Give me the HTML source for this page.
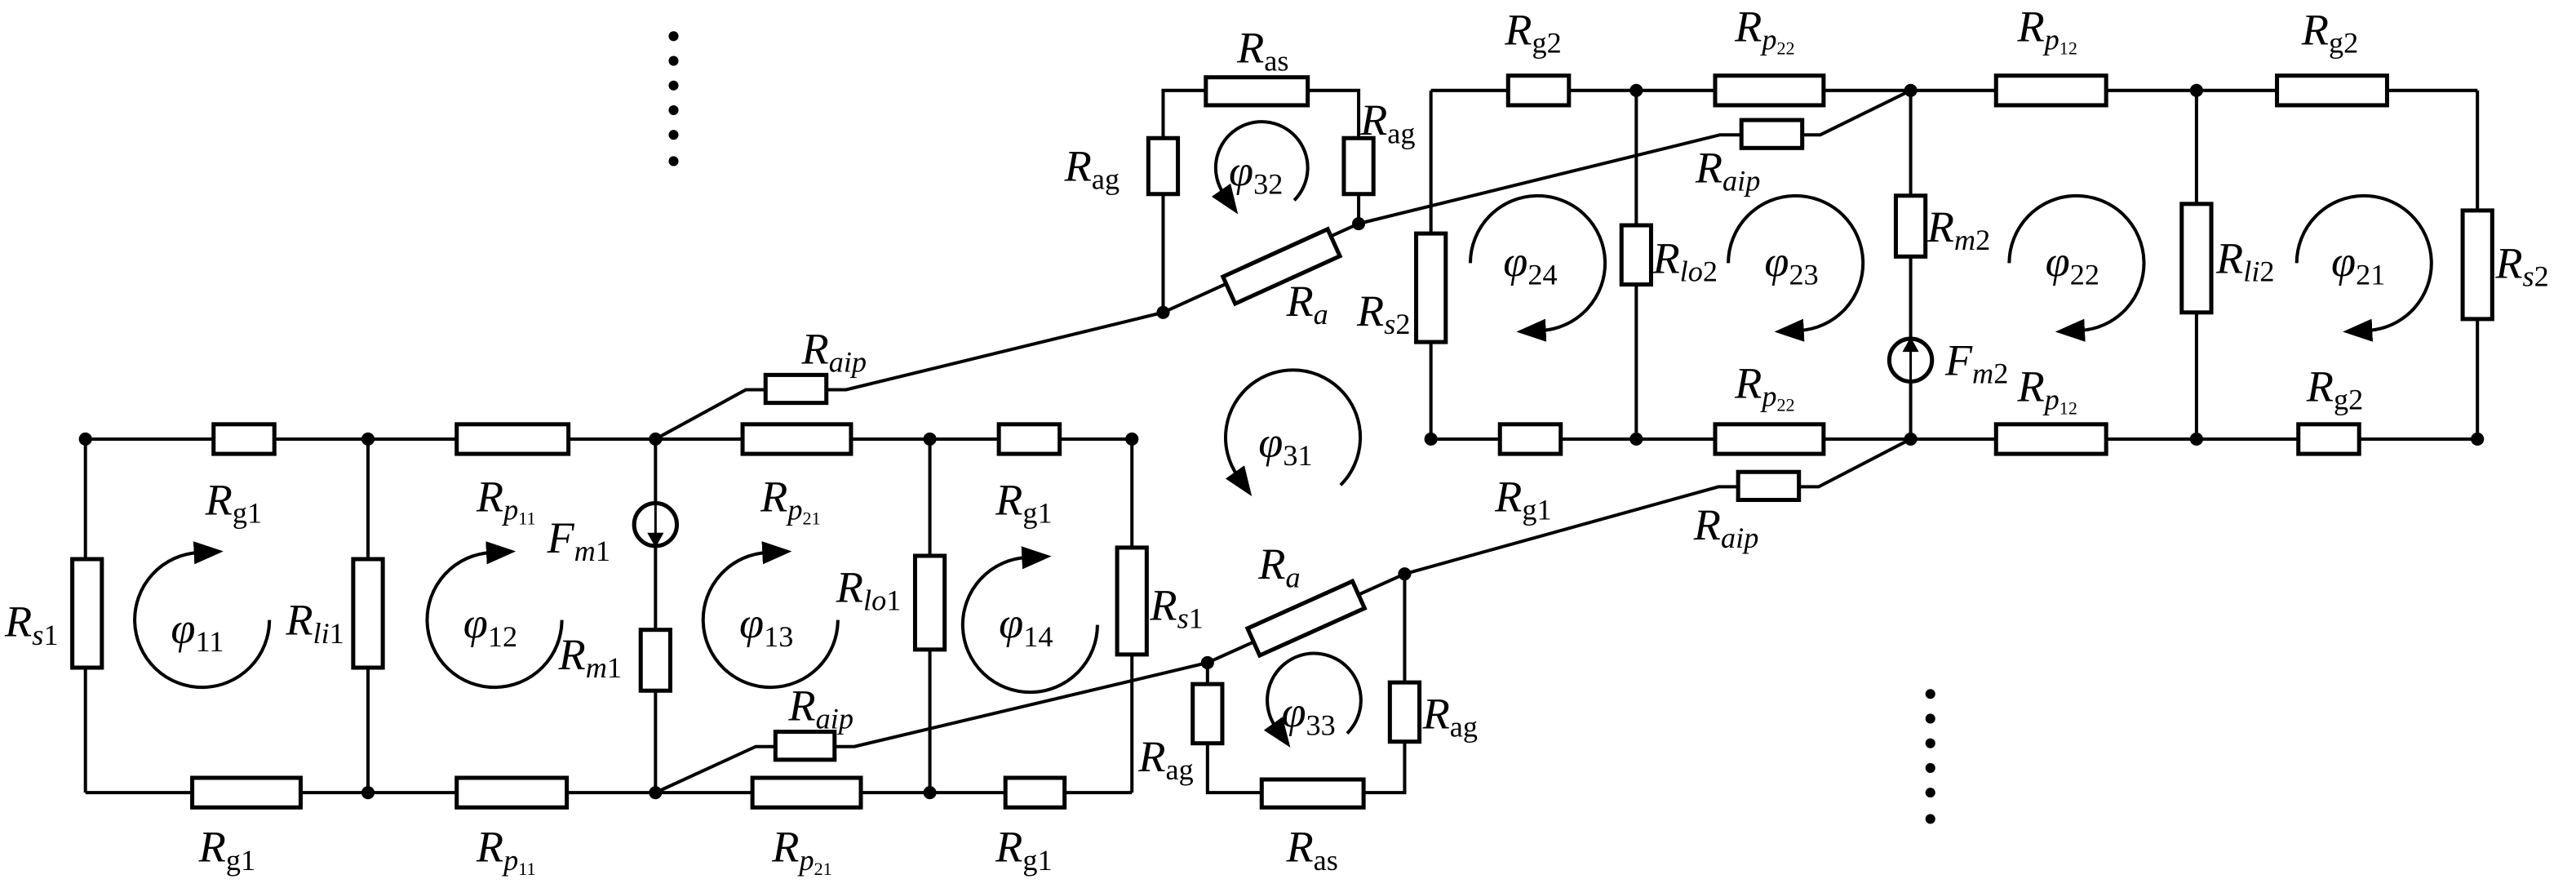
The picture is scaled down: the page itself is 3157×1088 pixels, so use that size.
<!DOCTYPE html>
<html><head><meta charset="utf-8"><style>
html,body{margin:0;padding:0;background:#fff;}
svg{display:block;}
text{font-family:"Liberation Serif",serif;font-size:27px;fill:#000;}
.i{font-style:italic;}
</style></head><body>
<svg width="3157" height="1088" viewBox="0 0 1568 540" preserveAspectRatio="none" xmlns="http://www.w3.org/2000/svg">
<defs>
<marker id="la" markerUnits="userSpaceOnUse" viewBox="0 0 18 14" refX="3" refY="7" markerWidth="18" markerHeight="14" orient="auto"><path d="M0,0 L18,7 L0,14 z" fill="#000"/></marker>
</defs>
<g stroke="#000" stroke-width="2" fill="none">
<line x1="52" y1="267" x2="689" y2="267"/>
<line x1="52" y1="482" x2="689" y2="482"/>
<line x1="52" y1="267" x2="52" y2="482"/>
<line x1="224" y1="267" x2="224" y2="482"/>
<line x1="399" y1="267" x2="399" y2="482"/>
<line x1="566" y1="267" x2="566" y2="482"/>
<line x1="689" y1="267" x2="689" y2="482"/>
<line x1="871" y1="55" x2="1508" y2="55"/>
<line x1="871" y1="267" x2="1508" y2="267"/>
<line x1="871" y1="55" x2="871" y2="267"/>
<line x1="996" y1="55" x2="996" y2="267"/>
<line x1="1163" y1="55" x2="1163" y2="267"/>
<line x1="1337" y1="55" x2="1337" y2="267"/>
<line x1="1508" y1="55" x2="1508" y2="267"/>
<polyline points="708,190 708,55 827,55 827,136"/>
<line x1="708" y1="190" x2="827" y2="136"/>
<polyline points="827,136 1047,82 1108,82 1163,55"/>
<polyline points="399,267 454,237 515,237 708,190"/>
<polyline points="735,403 735,482 855,482 855,349"/>
<line x1="735" y1="403" x2="855" y2="349"/>
<polyline points="855,349 1046,296 1107,296 1163,267"/>
<polyline points="399,482 460,454 520,454 735,403"/>
</g>
<g stroke="#000" stroke-width="2.5" fill="#fff">
<rect x="130" y="258" width="37" height="18"/>
<rect x="278" y="258" width="68" height="18"/>
<rect x="452" y="258" width="66" height="18"/>
<rect x="608" y="258" width="37" height="18"/>
<rect x="117" y="473" width="66" height="18"/>
<rect x="278" y="473" width="67" height="18"/>
<rect x="458" y="473" width="66" height="18"/>
<rect x="612" y="473" width="36" height="18"/>
<rect x="44" y="340" width="18" height="66"/>
<rect x="215" y="340" width="18" height="66"/>
<rect x="390" y="383" width="18" height="37"/>
<rect x="557" y="338" width="18" height="57"/>
<rect x="680" y="333" width="18" height="65"/>
<circle cx="399" cy="319" r="13"/>
<rect x="466" y="228" width="37" height="17"/>
<rect x="472" y="445" width="36" height="17"/>
<rect x="1060" y="73" width="37" height="17"/>
<rect x="1058" y="287" width="37" height="17"/>
<rect x="734" y="47" width="62" height="17"/>
<rect x="699" y="84" width="18" height="34"/>
<rect x="818" y="84" width="18" height="34"/>
<rect x="745" y="153" width="70" height="18" transform="rotate(-24.4 780 162)"/>
<rect x="768" y="474" width="62" height="17"/>
<rect x="726" y="416" width="18" height="36"/>
<rect x="846" y="415" width="18" height="36"/>
<rect x="760" y="367" width="70" height="18" transform="rotate(-24.2 795 376)"/>
<rect x="918" y="46" width="37" height="18"/>
<rect x="1044" y="46" width="66" height="18"/>
<rect x="1215" y="46" width="67" height="18"/>
<rect x="1386" y="46" width="67" height="18"/>
<rect x="913" y="258" width="37" height="18"/>
<rect x="1044" y="258" width="66" height="18"/>
<rect x="1215" y="258" width="67" height="18"/>
<rect x="1399" y="258" width="37" height="18"/>
<rect x="862" y="142" width="18" height="66"/>
<rect x="987" y="137" width="18" height="36"/>
<rect x="1154" y="119" width="18" height="37"/>
<rect x="1328" y="124" width="18" height="66"/>
<rect x="1499" y="128" width="18" height="66"/>
<circle cx="1163" cy="219" r="13"/>
</g>
<line x1="399" y1="307" x2="399" y2="328" stroke="#000" stroke-width="1.5"/>
<path d="M394,324 L404,324 L399,333 z" fill="#000"/>
<line x1="1163" y1="231" x2="1163" y2="210" stroke="#000" stroke-width="1.5"/>
<path d="M1158,214 L1168,214 L1163,205 z" fill="#000"/>
<g fill="#000">
<circle cx="52" cy="267" r="4"/><circle cx="224" cy="267" r="4"/><circle cx="399" cy="267" r="4"/><circle cx="566" cy="267" r="4"/><circle cx="689" cy="267" r="4"/>
<circle cx="224" cy="482" r="4"/><circle cx="399" cy="482" r="4"/><circle cx="566" cy="482" r="4"/>
<circle cx="708" cy="190" r="4"/><circle cx="827" cy="136" r="4"/><circle cx="735" cy="403" r="4"/><circle cx="855" cy="349" r="4"/>
<circle cx="996" cy="55" r="4"/><circle cx="1163" cy="55" r="4"/><circle cx="1337" cy="55" r="4"/>
<circle cx="871" cy="267" r="4"/><circle cx="996" cy="267" r="4"/><circle cx="1163" cy="267" r="4"/><circle cx="1337" cy="267" r="4"/><circle cx="1508" cy="267" r="4"/>
<circle cx="410" cy="22" r="3"/><circle cx="410" cy="37" r="3"/><circle cx="410" cy="52" r="3"/><circle cx="410" cy="67" r="3"/><circle cx="410" cy="82" r="3"/><circle cx="410" cy="98" r="3"/>
<circle cx="1175" cy="422" r="3"/><circle cx="1175" cy="437" r="3"/><circle cx="1175" cy="452" r="3"/><circle cx="1175" cy="467" r="3"/><circle cx="1175" cy="482" r="3"/><circle cx="1175" cy="498" r="3"/>
</g>
<!-- loops -->
<g stroke="#000" stroke-width="2" fill="none" marker-end="url(#la)">
<path d="M164,377 A41 41 0 1 1 121,336"/>
<path d="M342,377 A41 41 0 1 1 299,336"/>
<path d="M510,377 A41 41 0 1 1 467,336"/>
<path d="M668,380 A41 41 0 1 1 625,339"/>
<path d="M895,160 A41 41 0 1 1 938,201"/>
<path d="M1052,160 A41 41 0 1 1 1095,201"/>
<path d="M1223,160 A41 41 0 1 1 1266,201"/>
<path d="M1398,160 A41 41 0 1 1 1441,201"/>
<path d="M816,295 A41 41 0 1 0 753.4,289.5"/>
<path d="M787.8,121.8 A28 28 0 1 0 745,118"/>
<path d="M820,446 A28.5 28.5 0 1 0 776.7,442.4"/>
</g>
<g>
<text x="125" y="313"><tspan class="i">R</tspan><tspan font-size="18" dy="5">g1</tspan></text>
<text x="290" y="311"><tspan class="i">R</tspan><tspan class="i" font-size="18" dy="5">p</tspan><tspan font-size="11" dy="3">11</tspan></text>
<text x="463" y="311"><tspan class="i">R</tspan><tspan class="i" font-size="18" dy="5">p</tspan><tspan font-size="11" dy="3">21</tspan></text>
<text x="606" y="313"><tspan class="i">R</tspan><tspan font-size="18" dy="5">g1</tspan></text>
<text x="121" y="524"><tspan class="i">R</tspan><tspan font-size="18" dy="5">g1</tspan></text>
<text x="290" y="524"><tspan class="i">R</tspan><tspan class="i" font-size="18" dy="5">p</tspan><tspan font-size="11" dy="3">11</tspan></text>
<text x="470" y="524"><tspan class="i">R</tspan><tspan class="i" font-size="18" dy="5">p</tspan><tspan font-size="11" dy="3">21</tspan></text>
<text x="606" y="524"><tspan class="i">R</tspan><tspan font-size="18" dy="5">g1</tspan></text>
<text x="3" y="387"><tspan class="i">R</tspan><tspan class="i" font-size="18" dy="5">s</tspan><tspan font-size="18">1</tspan></text>
<text x="174" y="386"><tspan class="i">R</tspan><tspan class="i" font-size="18" dy="5">li</tspan><tspan font-size="18">1</tspan></text>
<text x="333" y="336"><tspan class="i">F</tspan><tspan class="i" font-size="18" dy="5">m</tspan><tspan font-size="18">1</tspan></text>
<text x="340" y="407"><tspan class="i">R</tspan><tspan class="i" font-size="18" dy="5">m</tspan><tspan font-size="18">1</tspan></text>
<text x="509" y="366"><tspan class="i">R</tspan><tspan class="i" font-size="18" dy="5">lo</tspan><tspan font-size="18">1</tspan></text>
<text x="700" y="377"><tspan class="i">R</tspan><tspan class="i" font-size="18" dy="5">s</tspan><tspan font-size="18">1</tspan></text>
<text x="488" y="221"><tspan class="i">R</tspan><tspan class="i" font-size="18" dy="5">aip</tspan></text>
<text x="480" y="438"><tspan class="i">R</tspan><tspan class="i" font-size="18" dy="5">aip</tspan></text>
<text x="753" y="38"><tspan class="i">R</tspan><tspan font-size="18" dy="5">as</tspan></text>
<text x="648" y="110"><tspan class="i">R</tspan><tspan font-size="18" dy="5">ag</tspan></text>
<text x="828" y="82"><tspan class="i">R</tspan><tspan font-size="18" dy="5">ag</tspan></text>
<text x="783" y="192"><tspan class="i">R</tspan><tspan class="i" font-size="18" dy="5">a</tspan></text>
<text x="766" y="352"><tspan class="i">R</tspan><tspan class="i" font-size="18" dy="5">a</tspan></text>
<text x="693" y="469"><tspan class="i">R</tspan><tspan font-size="18" dy="5">ag</tspan></text>
<text x="866" y="443"><tspan class="i">R</tspan><tspan font-size="18" dy="5">ag</tspan></text>
<text x="783" y="524"><tspan class="i">R</tspan><tspan font-size="18" dy="5">as</tspan></text>
<text x="916" y="27"><tspan class="i">R</tspan><tspan font-size="18" dy="5">g2</tspan></text>
<text x="1056" y="25"><tspan class="i">R</tspan><tspan class="i" font-size="18" dy="5">p</tspan><tspan font-size="11" dy="3">22</tspan></text>
<text x="1228" y="25"><tspan class="i">R</tspan><tspan class="i" font-size="18" dy="5">p</tspan><tspan font-size="11" dy="3">12</tspan></text>
<text x="1401" y="27"><tspan class="i">R</tspan><tspan font-size="18" dy="5">g2</tspan></text>
<text x="1032" y="111"><tspan class="i">R</tspan><tspan class="i" font-size="18" dy="5">aip</tspan></text>
<text x="826" y="198"><tspan class="i">R</tspan><tspan class="i" font-size="18" dy="5">s</tspan><tspan font-size="18">2</tspan></text>
<text x="1006" y="166"><tspan class="i">R</tspan><tspan class="i" font-size="18" dy="5">lo</tspan><tspan font-size="18">2</tspan></text>
<text x="1173" y="147"><tspan class="i">R</tspan><tspan class="i" font-size="18" dy="5">m</tspan><tspan font-size="18">2</tspan></text>
<text x="1349" y="166"><tspan class="i">R</tspan><tspan class="i" font-size="18" dy="5">li</tspan><tspan font-size="18">2</tspan></text>
<text x="1519" y="169"><tspan class="i">R</tspan><tspan class="i" font-size="18" dy="5">s</tspan><tspan font-size="18">2</tspan></text>
<text x="1184" y="228"><tspan class="i">F</tspan><tspan class="i" font-size="18" dy="5">m</tspan><tspan font-size="18">2</tspan></text>
<text x="1056" y="242"><tspan class="i">R</tspan><tspan class="i" font-size="18" dy="5">p</tspan><tspan font-size="11" dy="3">22</tspan></text>
<text x="1228" y="244"><tspan class="i">R</tspan><tspan class="i" font-size="18" dy="5">p</tspan><tspan font-size="11" dy="3">12</tspan></text>
<text x="1404" y="244"><tspan class="i">R</tspan><tspan font-size="18" dy="5">g2</tspan></text>
<text x="910" y="311"><tspan class="i">R</tspan><tspan font-size="18" dy="5">g1</tspan></text>
<text x="1031" y="328"><tspan class="i">R</tspan><tspan class="i" font-size="18" dy="5">aip</tspan></text>
<text x="104" y="391"><tspan class="i">φ</tspan><tspan font-size="18" dy="5">11</tspan></text>
<text x="282" y="388"><tspan class="i">φ</tspan><tspan font-size="18" dy="5">12</tspan></text>
<text x="450" y="388"><tspan class="i">φ</tspan><tspan font-size="18" dy="5">13</tspan></text>
<text x="608" y="388"><tspan class="i">φ</tspan><tspan font-size="18" dy="5">14</tspan></text>
<text x="766" y="278"><tspan class="i">φ</tspan><tspan font-size="18" dy="5">31</tspan></text>
<text x="748" y="113"><tspan class="i">φ</tspan><tspan font-size="18" dy="5">32</tspan></text>
<text x="780" y="442"><tspan class="i">φ</tspan><tspan font-size="18" dy="5">33</tspan></text>
<text x="915" y="168"><tspan class="i">φ</tspan><tspan font-size="18" dy="5">24</tspan></text>
<text x="1074" y="168"><tspan class="i">φ</tspan><tspan font-size="18" dy="5">23</tspan></text>
<text x="1245" y="168"><tspan class="i">φ</tspan><tspan font-size="18" dy="5">22</tspan></text>
<text x="1419" y="168"><tspan class="i">φ</tspan><tspan font-size="18" dy="5">21</tspan></text>
</g>
</svg>
</body></html>
